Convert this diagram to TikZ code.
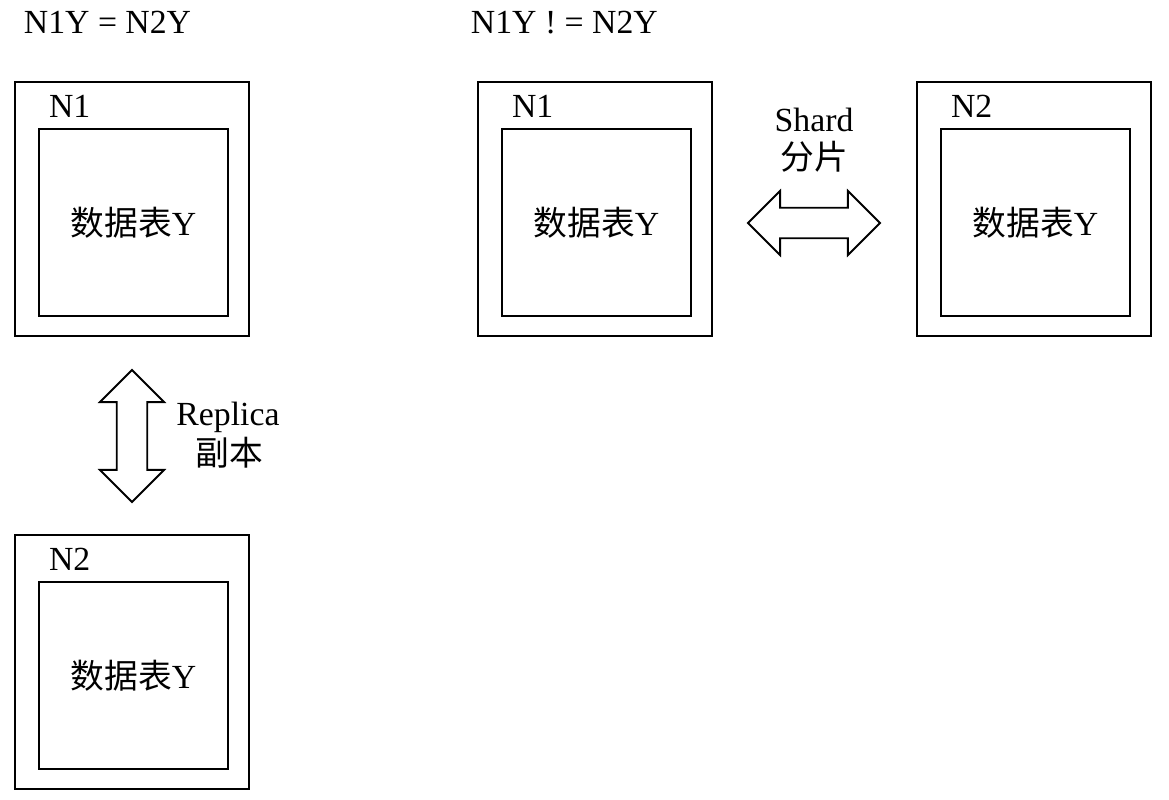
\documentclass[tikz,border=0pt]{standalone}
\usepackage{fontspec}
\setmainfont{Liberation Serif}
\newfontfamily\cjk{Noto Sans CJK SC}
\usetikzlibrary{positioning, calc, shapes.arrows}

\begin{document}
\begin{tikzpicture}[
    x=0.025cm, y=-0.025cm,
    font=\fontsize{24}{28}\selectfont,
    server/.style={
        draw, line width=1.3pt, inner sep=0,
        minimum width=5.85cm, minimum height=6.35cm,
      },
    datatable/.style={
        draw, line width=1.3pt, inner sep=0,
        minimum width=4.725cm, minimum height=4.675cm,
      },
    link/.style={
        draw, line width=1.3pt, inner sep=0.36cm,
        double arrow, double arrow head extend=0.42cm,
        minimum height=3.3cm, minimum width=1.56cm,
      },
  ]
  \useasboundingbox (0,0) rectangle (1169,800);

  \node[anchor=base west] (title1) at (19,34) {N1Y = N2Y};
  \node[anchor=base west] (title2) at (466,34) {N1Y ! = N2Y};

  \foreach \n/\x/\y/\l in {a/132/209/N1, b/132/662/N2, c/595/209/N1, d/1034/209/N2} {
      \node[server] (server\n) at (\x,\y) {};
      \node[datatable] (table\n) at ($(server\n)+(1.5,13.5)$) {{\cjk 数据表}Y};
      \node[anchor=base west] (label\n) at ($(server\n.north west)+(30,36)$) {\l};
    }

  \node[link, rotate=90] (replica) at (132,436) {};
  \node[anchor=base] (replicaname) at (228,425) {Replica};
  \node[anchor=base] (replicacn) at (229,465) {\cjk 副本};

  \node[link] (shard) at (814,223) {};
  \node[anchor=base] (shardname) at (814,132) {Shard};
  \node[anchor=base] (shardcn) at (814,170) {\cjk 分片};
\end{tikzpicture}
\end{document}
